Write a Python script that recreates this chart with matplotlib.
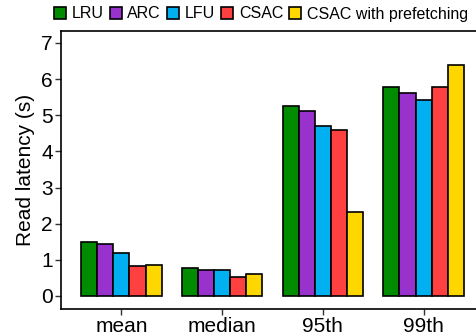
import numpy as np
import matplotlib
matplotlib.use("Agg")
import matplotlib.pyplot as plt
from matplotlib.patches import Patch

plt.rcParams['font.family'] = ['Liberation Sans', 'DejaVu Sans']

# Read latency (seconds) per statistic and caching policy
stats = ["mean", "median", "95th", "99th"]
policies = ["LRU", "ARC", "LFU", "CSAC", "CSAC with prefetching"]
lru = [1.49, 0.78, 5.26, 5.79]
arc = [1.45, 0.73, 5.11, 5.61]
lfu = [1.19, 0.72, 4.70, 5.41]
csac = [0.82, 0.53, 4.58, 5.79]
csac_pf = [0.86, 0.61, 2.33, 6.40]
yticks = [0, 1, 2, 3, 4, 5, 6, 7]

series = [lru, arc, lfu, csac, csac_pf]
colors = ["#008B00", "#9932CC", "#00B0F0", "#FF4040", "#FFD700"]

fig = plt.figure(figsize=(4.76, 3.35), dpi=100)
ax = fig.add_axes([61 / 476, 1 - 309 / 335, (484 - 61) / 476, (309 - 31) / 335])

x = np.arange(1, len(stats) + 1)
n = len(series)
w = 0.8 / n
for i, (vals, c) in enumerate(zip(series, colors)):
    ax.bar(x - 0.4 + w * (i + 0.5), vals, width=w, color=c,
           edgecolor="black", linewidth=1.2, label=policies[i], zorder=3)

ax.set_xlim(0.4, 4.6)
ax.set_ylim(-0.36, 7.33)
ax.set_xticks(x)
ax.set_xticklabels(stats, fontsize=15)
ax.set_yticks(yticks)
ax.set_yticklabels([str(t) for t in yticks], fontsize=15)
ax.set_ylabel("Read latency (s)", fontsize=15, labelpad=4)
ax.tick_params(axis="both", length=4, width=1, color="#333333", pad=2)
for s in ax.spines.values():
    s.set_linewidth(1.2)
    s.set_color("black")

handles = [Patch(facecolor=c, edgecolor="black", linewidth=1.2) for c in colors]
fig.legend(handles, policies, loc="center", bbox_to_anchor=(261 / 476, 1 - 14 / 335),
           ncol=5, frameon=False, fontsize=11.5, handlelength=0.75, handleheight=0.75,
           columnspacing=0.37, handletextpad=0.37, borderaxespad=0, borderpad=0)

fig.savefig("out.png", dpi=100)
